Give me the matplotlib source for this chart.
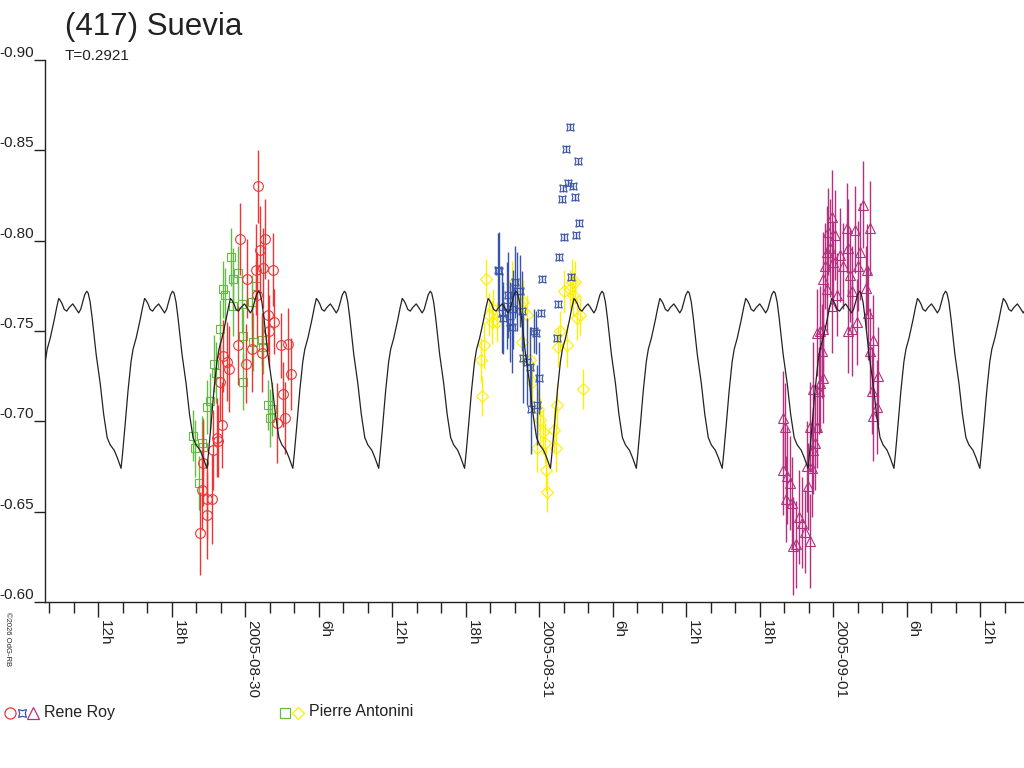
import datetime as dt
import numpy as np
import matplotlib
matplotlib.use("Agg")
import matplotlib.pyplot as plt
import matplotlib.dates as mdates
from matplotlib.ticker import FuncFormatter

plt.rcParams["font.family"] = ["Liberation Sans", "DejaVu Sans"]

# === data: hours since 2005-08-30 00:00 UT, magnitude, error ==========
T_days = 0.2921
epoch_h = -10.12          # a minimum of the model curve

# one period of the model curve (phase, mag)
model_phase = [0.000, 0.017, 0.047, 0.081, 0.116, 0.140, 0.175, 0.221, 0.250,
               0.274, 0.291, 0.314, 0.338, 0.367, 0.396, 0.437, 0.466, 0.506,
               0.530, 0.547, 0.576, 0.600, 0.617, 0.640, 0.664, 0.710, 0.757,
               0.797, 0.838, 0.873, 0.920, 0.955, 1.000]
model_mag = [-0.674, -0.682, -0.698, -0.717, -0.733, -0.740, -0.746, -0.756, -0.763,
             -0.768, -0.767, -0.765, -0.762, -0.761, -0.763, -0.765, -0.763, -0.760,
             -0.762, -0.765, -0.770, -0.772, -0.771, -0.766, -0.757, -0.737, -0.721,
             -0.704, -0.691, -0.687, -0.684, -0.680, -0.674]

# Rene Roy, night 1 (red circles)
roy1_h = [1.04, -0.41, 1.63, 1.22, 1.49, 2.26, 0.90, 0.14, 0.96, 1.90, 2.39, 1.98,
          -0.55, 0.55, 1.36, 2.91, 3.53, 0.08, -1.77, -1.49, -1.28, -2.04, 3.73,
          3.13, 3.27, 2.64, -1.90, -2.31, -2.18, -2.59, -3.40, -2.72, -3.13, -3.08,
          -3.67, -3.53]
roy1_mag = [-0.830, -0.801, -0.801, -0.795, -0.785, -0.784, -0.784, -0.779, -0.770,
            -0.759, -0.755, -0.750, -0.742, -0.740, -0.738, -0.742, -0.743, -0.732,
            -0.736, -0.733, -0.729, -0.722, -0.726, -0.715, -0.702, -0.699, -0.698,
            -0.691, -0.689, -0.684, -0.677, -0.657, -0.657, -0.648, -0.638, -0.662]
roy1_err = [0.020, 0.020, 0.022, 0.024, 0.022, 0.020, 0.025, 0.022, 0.024, 0.020,
            0.018, 0.020, 0.022, 0.024, 0.022, 0.018, 0.020, 0.022, 0.020, 0.022,
            0.024, 0.022, 0.020, 0.018, 0.020, 0.022, 0.024, 0.022, 0.020, 0.022,
            0.024, 0.025, 0.022, 0.024, 0.023, 0.022]

# Pierre Antonini, night 1 (green squares)
ant1_h = [-1.17, -0.55, -1.00, -1.82, -1.63, 0.90, -0.27, -0.96, 0.55, -2.04, -0.14,
          0.63, 1.36, 1.49, -2.51, -2.37, -0.14, 1.90, 2.18, 2.04, -2.86, -3.08,
          -4.27, -4.08, -3.53, -3.40, -3.73]
ant1_mag = [-0.791, -0.782, -0.779, -0.773, -0.770, -0.775, -0.765, -0.764, -0.766,
            -0.751, -0.747, -0.744, -0.745, -0.741, -0.732, -0.727, -0.722, -0.709,
            -0.707, -0.702, -0.711, -0.708, -0.692, -0.685, -0.688, -0.686, -0.666]
ant1_err = [0.016, 0.015, 0.017, 0.016, 0.015, 0.014, 0.016, 0.017, 0.015, 0.016,
            0.015, 0.016, 0.014, 0.015, 0.016, 0.017, 0.016, 0.014, 0.015, 0.016,
            0.016, 0.015, 0.014, 0.016, 0.015, 0.016, 0.015]

# Rene Roy, night 2 (blue stars)
roy2_h = [26.53, 26.20, 27.16, 26.34, 26.74, 25.98, 25.85, 26.94, 27.27, 26.07,
          27.02, 25.66, 26.61, 24.22, 25.53, 24.14, 23.76, 23.59, 25.45, 24.00,
          23.86, 23.32, 20.63, 20.76, 20.96, 21.09, 21.63, 21.77, 22.18, 22.45,
          21.49, 22.59, 22.72, 23.00, 23.27, 21.36, 21.90, 22.04]
roy2_mag = [-0.863, -0.851, -0.844, -0.832, -0.830, -0.829, -0.823, -0.824, -0.810,
            -0.802, -0.803, -0.791, -0.780, -0.779, -0.765, -0.760, -0.749, -0.750,
            -0.746, -0.724, -0.709, -0.707, -0.784, -0.783, -0.760, -0.757, -0.755,
            -0.752, -0.772, -0.772, -0.770, -0.761, -0.735, -0.733, -0.730, -0.764,
            -0.762, -0.777]
roy2_err = [0.002, 0.002, 0.002, 0.002, 0.002, 0.002, 0.002, 0.002, 0.002, 0.002,
            0.002, 0.002, 0.002, 0.002, 0.002, 0.002, 0.012, 0.012, 0.002, 0.020,
            0.022, 0.025, 0.020, 0.022, 0.022, 0.020, 0.022, 0.025, 0.022, 0.020,
            0.024, 0.022, 0.025, 0.024, 0.022, 0.024, 0.022, 0.020]

# Pierre Antonini, night 2 (yellow diamonds)
ant2_h = [19.65, 19.24, 19.37, 19.51, 19.94, 20.27, 20.14, 21.77, 22.72, 23.00,
          22.59, 23.27, 23.40, 23.94, 24.08, 23.81, 24.35, 24.49, 24.57, 24.68,
          25.25, 25.39, 25.49, 25.58, 26.26, 25.71, 26.04, 26.67, 26.94, 26.53,
          26.80, 27.35, 27.13, 27.62, 22.45, 20.55]
ant2_mag = [-0.779, -0.734, -0.714, -0.742, -0.759, -0.762, -0.755, -0.776, -0.766,
            -0.759, -0.744, -0.734, -0.722, -0.707, -0.701, -0.685, -0.694, -0.688,
            -0.673, -0.661, -0.695, -0.685, -0.709, -0.741, -0.742, -0.750, -0.772,
            -0.777, -0.777, -0.773, -0.770, -0.759, -0.757, -0.718, -0.765, -0.755]
ant2_err = [0.011, 0.012, 0.011, 0.013, 0.012, 0.011, 0.012, 0.013, 0.012, 0.011,
            0.012, 0.013, 0.012, 0.011, 0.012, 0.013, 0.012, 0.011, 0.012, 0.011,
            0.012, 0.013, 0.012, 0.011, 0.012, 0.011, 0.012, 0.013, 0.012, 0.011,
            0.012, 0.011, 0.012, 0.011, 0.012, 0.011]

# Rene Roy, night 3 (purple triangles)
roy3_h = [43.94, 44.08, 43.94, 44.22, 44.16, 44.49, 44.63, 44.76, 44.98, 45.25,
          45.45, 45.71, 46.12, 45.98, 45.85, 46.26, 46.39, 46.53, 46.12, 46.67,
          46.39, 46.88, 47.21, 46.94, 46.67, 47.08, 46.94, 47.16, 47.21, 47.35,
          47.49, 47.76, 47.62, 47.89, 48.16, 48.03, 48.57, 48.79, 49.12, 49.25,
          49.80, 49.39, 49.53, 49.25, 49.53, 49.93, 50.07, 50.20, 50.47, 51.02,
          50.75, 50.69, 50.88, 51.02, 51.29, 51.70, 51.16, 51.57, 51.29, 48.30,
          47.89, 47.49]
roy3_mag = [-0.702, -0.697, -0.673, -0.670, -0.657, -0.666, -0.655, -0.631, -0.632,
            -0.647, -0.644, -0.639, -0.634, -0.664, -0.675, -0.674, -0.684, -0.688,
            -0.697, -0.697, -0.718, -0.717, -0.724, -0.721, -0.749, -0.739, -0.750,
            -0.751, -0.779, -0.786, -0.794, -0.796, -0.805, -0.813, -0.803, -0.788,
            -0.792, -0.786, -0.807, -0.796, -0.806, -0.781, -0.772, -0.750, -0.751,
            -0.755, -0.786, -0.794, -0.820, -0.807, -0.784, -0.774, -0.760, -0.739,
            -0.745, -0.725, -0.717, -0.708, -0.703, -0.770, -0.764, -0.773]
roy3_err = [0.026, 0.024, 0.025, 0.027, 0.024, 0.026, 0.025, 0.027, 0.024, 0.026,
            0.025, 0.023, 0.026, 0.024, 0.025, 0.027, 0.024, 0.026, 0.025, 0.023,
            0.026, 0.024, 0.025, 0.027, 0.024, 0.026, 0.025, 0.023, 0.026, 0.024,
            0.025, 0.027, 0.024, 0.026, 0.025, 0.023, 0.026, 0.024, 0.025, 0.027,
            0.024, 0.026, 0.025, 0.023, 0.026, 0.024, 0.025, 0.027, 0.024, 0.026,
            0.025, 0.023, 0.026, 0.024, 0.025, 0.027, 0.024, 0.026, 0.025, 0.023,
            0.026, 0.024]

# === colours / helpers ==================================================
RED, GREEN, BLUE = "#f03333", "#66bb44", "#3a55a8"
YELLOW, PURPLE, INK = "#ffee00", "#b5307f", "#222222"
t0 = mdates.date2num(dt.datetime(2005, 8, 30))


def to_num(hours):
    return t0 + np.asarray(hours) / 24.0


fig = plt.figure(figsize=(10.24, 7.68), dpi=100)
ax = fig.add_axes([45 / 1024, (768 - 602) / 768, (1024 - 45) / 1024, 542 / 768])

# model curve, repeated over the periods in view
T_h = T_days * 24.0
ph = np.asarray(model_phase)
curve_h, curve_m = [], []
for k in range(-2, 12):
    curve_h.extend(epoch_h + (ph[:-1] + k) * T_h)
    curve_m.extend(model_mag[:-1])
ax.plot(to_num(curve_h), curve_m, color=INK, lw=0.9, zorder=3)

# observations
star4 = (4, 1, 45)
groups = [
    (ant1_h, ant1_mag, ant1_err, "s", GREEN, 6.0),
    (roy1_h, roy1_mag, roy1_err, "o", RED, 7.0),
    (ant2_h, ant2_mag, ant2_err, "D", YELLOW, 6.5),
    (roy2_h, roy2_mag, roy2_err, star4, BLUE, 7.5),
    (roy3_h, roy3_mag, roy3_err, "^", PURPLE, 7.0),
]
for hh, mm, ee, mk, col, ms in groups:
    ax.errorbar(to_num(hh), mm, yerr=ee, fmt="none", ecolor=col,
                elinewidth=1.0, capsize=0, zorder=2)
    ax.plot(to_num(hh), mm, ls="none", marker=mk, ms=ms, mfc="none", mec=col,
            mew=0.8, zorder=2)

# axes cosmetics
ax.set_ylim(-0.60, -0.90)
ax.set_xlim(to_num(-16.33), to_num(63.59))
for s in ("top", "right"):
    ax.spines[s].set_visible(False)
for s in ("left", "bottom"):
    ax.spines[s].set_color(INK)
    ax.spines[s].set_linewidth(1.0)

ax.set_yticks([-0.90, -0.85, -0.80, -0.75, -0.70, -0.65, -0.60])
ax.yaxis.set_major_formatter(FuncFormatter(lambda v, p: f"{v:.2f}"))
ax.tick_params(axis="y", direction="out", length=8, width=1, pad=0,
               labelsize=11, colors=INK)
for lab in ax.get_yticklabels():
    lab.set_verticalalignment("bottom")

ax.xaxis.set_major_locator(mdates.HourLocator(byhour=[0, 6, 12, 18]))
ax.xaxis.set_minor_locator(mdates.HourLocator(byhour=range(0, 24, 2)))


def fmt_x(v, p):
    d = mdates.num2date(v)
    if d.hour == 0:
        return d.strftime("%Y-%m-%d")
    return f"{d.hour}h"


ax.xaxis.set_major_formatter(FuncFormatter(fmt_x))
ax.tick_params(axis="x", which="major", direction="out", length=11, width=1,
               pad=2, labelsize=11, colors=INK)
ax.tick_params(axis="x", which="minor", direction="out", length=8, width=1,
               colors=INK)
for lab in ax.get_xticklabels():
    lab.set_rotation(-90)
    lab.set_horizontalalignment("left")
    lab.set_verticalalignment("top")

# titles
fig.text(65 / 1024, 1 - 12 / 768, "(417) Suevia", fontsize=22.5, color=INK,
         va="top", ha="left")
fig.text(65 / 1024, 1 - 49 / 768, "T=0.2921", fontsize=11, color=INK,
         va="top", ha="left")
fig.text(4 / 1024, 1 - 612 / 768, "\u00a92026 OdG-RB", fontsize=5.5, color=INK,
         rotation=-90, va="top", ha="left")

# legend drawn in pixel space
lg = fig.add_axes([0, 0, 1, 1], facecolor="none")
lg.set_xlim(0, 1024)
lg.set_ylim(768, 0)
lg.axis("off")
for x, mk, col, ms in [(10, "o", RED, 8), (22, star4, BLUE, 8), (33, "^", PURPLE, 8),
                       (285, "s", GREEN, 7), (298, "D", YELLOW, 6.5)]:
    lg.plot([x], [713], marker=mk, ms=ms, mfc="none", mec=col, mew=0.9)
lg.text(44, 712, "Rene Roy", fontsize=11.5, color=INK, va="center", ha="left")
lg.text(309, 712, "Pierre Antonini", fontsize=11.5, color=INK, va="center",
        ha="left")

fig.savefig("out.png", dpi=100)
